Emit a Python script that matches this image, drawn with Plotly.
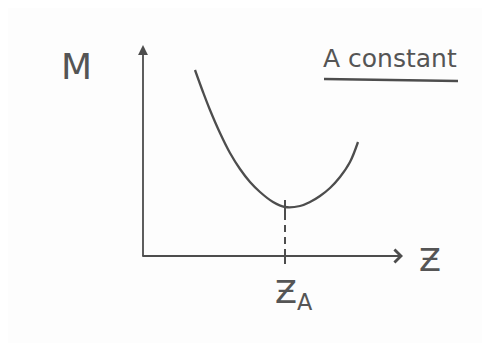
import plotly.graph_objects as go

# sketch curve M(z) at constant A
z = [0.52, 0.60, 0.67, 0.77, 0.87, 0.97, 1.07, 1.17, 1.30, 1.42, 1.57, 1.67, 1.77, 1.87, 1.97, 2.07, 2.15]
M = [1.86, 1.64, 1.46, 1.23, 1.03, 0.87, 0.74, 0.64, 0.54, 0.49, 0.50, 0.54, 0.60, 0.68, 0.79, 0.94, 1.14]

z_A = 1.42
M_A = 0.49
z_end = 2.60
M_end = 2.11

ink = "#4d4d4d"
font = "DejaVu Sans"

fig = go.Figure()
fig.add_trace(go.Scatter(x=z, y=M, mode="lines", line=dict(color=ink, width=2.3, shape="spline"),
                         hoverinfo="skip", showlegend=False))

# axes drawn as arrows
fig.add_annotation(x=0, y=M_end, ax=0, ay=-0.02, xref="x", yref="y", axref="x", ayref="y",
                   showarrow=True, arrowhead=2, arrowsize=1.1, arrowwidth=1.8, arrowcolor=ink, text="")
fig.add_annotation(x=z_end, y=0, ax=-0.02, ay=0, xref="x", yref="y", axref="x", ayref="y",
                   showarrow=True, arrowhead=4, arrowsize=1.4, arrowwidth=1.8, arrowcolor=ink, text="")

# dashed guide at z_A
fig.add_shape(type="line", x0=z_A, x1=z_A, y0=0.0, y1=M_A + 0.07,
              line=dict(color=ink, width=2, dash="7px,5px"))
fig.add_shape(type="line", x0=z_A, x1=z_A, y0=M_A - 0.10, y1=M_A + 0.07, line=dict(color=ink, width=2))
fig.add_shape(type="line", x0=z_A, x1=z_A, y0=-0.08, y1=0.07, line=dict(color=ink, width=2))

# labels
fig.add_annotation(x=-0.67, y=1.90, text="M", showarrow=False, font=dict(family=font, size=36, color="#555"))
fig.add_annotation(x=2.87, y=-0.04, text="Ƶ", showarrow=False, font=dict(family=font, size=32, color="#555"))
fig.add_annotation(x=1.30, y=-0.15, xanchor="left", yanchor="top", text="Ƶ<sub>A</sub>", showarrow=False,
                   font=dict(family=font, size=32, color="#555"))
fig.add_annotation(x=2.47, y=1.98, text="A constant", showarrow=False,
                   font=dict(family=font, size=25, color="#555"))
fig.add_shape(type="line", x0=1.81, x1=3.15, y0=1.77, y1=1.75, line=dict(color=ink, width=2.3))

# ranges offset by the page's 8px body margin so the sketch lands where it should
fig.update_xaxes(range=[-1.35, 3.55], visible=False, showgrid=False)
fig.update_yaxes(range=[-0.95, 2.48], visible=False, showgrid=False)
fig.update_layout(width=490, height=343, autosize=False, margin=dict(l=0, r=0, t=0, b=0),
                  paper_bgcolor="#fdfdfd", plot_bgcolor="#fdfdfd")

fig.write_html("out.html")
